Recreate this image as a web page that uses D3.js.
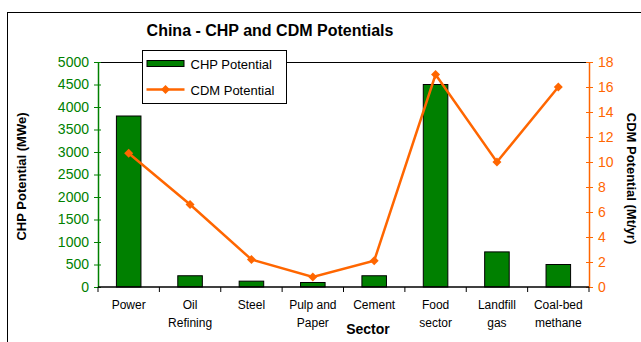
<!DOCTYPE html>
<html>
<head>
<meta charset="utf-8">
<script src="https://cdn.jsdelivr.net/npm/d3@7"></script>
<style>
  body { margin: 0; background: #fff; }
  svg { display: block; font-family: "Liberation Sans", Arial, sans-serif; }
</style>
</head>
<body>
<div class="chart-area"></div>
<script>
// China - CHP and CDM potentials, bar + line on two axes

// ---- Data ----
const sectors = [
  ["Power"], ["Oil", "Refining"], ["Steel"], ["Pulp and", "Paper"],
  ["Cement"], ["Food", "sector"], ["Landfill", "gas"], ["Coal-bed", "methane"]
];
const chpValues = [3800, 250, 130, 100, 250, 4500, 780, 500];   // MWe
const cdmValues = [10.7, 6.6, 2.2, 0.8, 2.1, 17, 10, 16];      // Mt/yr
const chpTicks = [0, 500, 1000, 1500, 2000, 2500, 3000, 3500, 4000, 4500, 5000];
const cdmTicks = [0, 2, 4, 6, 8, 10, 12, 14, 16, 18];

// ---- Sizes ----
const svgWidth = 641, svgHeight = 342;
const plotLeft = 98, plotRight = 589, plotTop = 62, plotBottom = 287;
const green = "#008000", orange = "#FF6600";

const svg = d3.select(".chart-area").append("svg")
  .attr("width", svgWidth)
  .attr("height", svgHeight);

// outer chart border (runs off the right / bottom edge)
svg.append("rect")
  .attr("x", 7.5).attr("y", 12.5)
  .attr("width", 700).attr("height", 400)
  .attr("fill", "none").attr("stroke", "#000").attr("stroke-width", 1);

// scales
const keys = sectors.map(d => d.join(" "));
const x = d3.scaleBand().domain(keys).range([plotLeft, plotRight]);
const yL = d3.scaleLinear().domain([0, 5000]).range([plotBottom, plotTop]);
const yR = d3.scaleLinear().domain([0, 18]).range([plotBottom, plotTop]);

// plot area top border
svg.append("line")
  .attr("x1", plotLeft).attr("x2", plotRight)
  .attr("y1", plotTop + 0.5).attr("y2", plotTop + 0.5)
  .attr("stroke", "#000");

// bars
const barW = x.bandwidth() / 2.5;
svg.selectAll("rect.bar")
  .data(chpValues)
  .join("rect")
  .attr("class", "bar")
  .attr("x", (d, i) => x(keys[i]) + (x.bandwidth() - barW) / 2)
  .attr("y", d => yL(d))
  .attr("width", barW)
  .attr("height", d => plotBottom - yL(d))
  .attr("fill", green)
  .attr("stroke", "#000")
  .attr("stroke-width", 1);

// left axis
const leftAxis = svg.append("g")
  .attr("transform", `translate(${plotLeft},0)`)
  .call(d3.axisLeft(yL).tickValues(chpTicks).tickFormat(d3.format("d")).tickSize(4).tickSizeOuter(0));
leftAxis.select(".domain").attr("stroke", green).attr("stroke-width", 1.5);
leftAxis.selectAll(".tick line").attr("stroke", green).attr("x1", 3);
leftAxis.selectAll(".tick text")
  .attr("fill", green).attr("x", -9)
  .style("font-size", "14px").style("font-family", "Liberation Sans, Arial, sans-serif");

// right axis
const rightAxis = svg.append("g")
  .attr("transform", `translate(${plotRight},0)`)
  .call(d3.axisRight(yR).tickValues(cdmTicks).tickSize(4).tickSizeOuter(0));
rightAxis.select(".domain").attr("stroke", orange).attr("stroke-width", 1.5);
rightAxis.selectAll(".tick line").attr("stroke", orange).attr("x1", -3);
rightAxis.selectAll(".tick text")
  .attr("fill", orange).attr("x", 9)
  .style("font-size", "14px").style("font-family", "Liberation Sans, Arial, sans-serif");

// x axis
const xAxis = svg.append("g")
  .attr("transform", `translate(0,${plotBottom})`);
xAxis.append("line")
  .attr("x1", plotLeft).attr("x2", plotRight)
  .attr("stroke", "#000").attr("stroke-width", 1.5);
const edges = d3.range(sectors.length + 1).map(i => plotLeft + i * x.step());
xAxis.selectAll("line.tick")
  .data(edges)
  .join("line")
  .attr("class", "tick")
  .attr("x1", d => d).attr("x2", d => d)
  .attr("y1", 0).attr("y2", 5)
  .attr("stroke", "#000");

xAxis.selectAll("text.cat")
  .data(sectors)
  .join("text")
  .attr("class", "cat")
  .attr("x", (d, i) => x(keys[i]) + x.bandwidth() / 2)
  .attr("y", 22)
  .attr("text-anchor", "middle")
  .style("font-size", "12px")
  .each(function (d) {
    const t = d3.select(this);
    d.forEach((line, j) => {
      t.append("tspan")
        .attr("x", t.attr("x"))
        .attr("dy", j === 0 ? 0 : 18)
        .text(line);
    });
  });

// CDM line + diamond markers
const line = d3.line()
  .x((d, i) => x(keys[i]) + x.bandwidth() / 2)
  .y(d => yR(d));

svg.append("path")
  .datum(cdmValues)
  .attr("d", line)
  .attr("fill", "none")
  .attr("stroke", orange)
  .attr("stroke-width", 2.5);

const diamond = d3.symbol().type(d3.symbolSquare).size(40);
svg.selectAll("path.marker")
  .data(cdmValues)
  .join("path")
  .attr("class", "marker")
  .attr("d", diamond)
  .attr("transform", (d, i) => `translate(${x(keys[i]) + x.bandwidth() / 2},${yR(d)}) rotate(45)`)
  .attr("fill", orange);

// titles
svg.append("text")
  .attr("x", 270).attr("y", 36)
  .attr("text-anchor", "middle")
  .style("font-size", "16px").style("font-weight", "bold")
  .text("China - CHP and CDM Potentials");

svg.append("text")
  .attr("transform", `translate(26,${(plotTop + plotBottom) / 2 + 2}) rotate(-90)`)
  .attr("text-anchor", "middle")
  .style("font-size", "13px").style("font-weight", "bold")
  .text("CHP Potential (MWe)");

svg.append("text")
  .attr("transform", `translate(627,${(plotTop + plotBottom) / 2 + 4}) rotate(90)`)
  .attr("text-anchor", "middle")
  .style("font-size", "13px").style("font-weight", "bold")
  .text("CDM Potential (Mt/yr)");

svg.append("text")
  .attr("x", 368).attr("y", 334)
  .attr("text-anchor", "middle")
  .style("font-size", "14px").style("font-weight", "bold")
  .text("Sector");

// legend
const legend = svg.append("g").attr("transform", "translate(142.5,50.5)");
legend.append("rect")
  .attr("width", 144).attr("height", 53)
  .attr("fill", "#fff").attr("stroke", "#000");
legend.append("rect")
  .attr("x", 4.5).attr("y", 10).attr("width", 37).attr("height", 6)
  .attr("fill", green).attr("stroke", "#000");
legend.append("text")
  .attr("x", 48).attr("y", 18)
  .style("font-size", "13px")
  .text("CHP Potential");
legend.append("line")
  .attr("x1", 4).attr("x2", 42).attr("y1", 39).attr("y2", 39)
  .attr("stroke", orange).attr("stroke-width", 2.5);
legend.append("path")
  .attr("d", diamond)
  .attr("transform", "translate(23,39) rotate(45)")
  .attr("fill", orange);
legend.append("text")
  .attr("x", 48).attr("y", 44)
  .style("font-size", "13px")
  .text("CDM Potential");
</script>
</body>
</html>
